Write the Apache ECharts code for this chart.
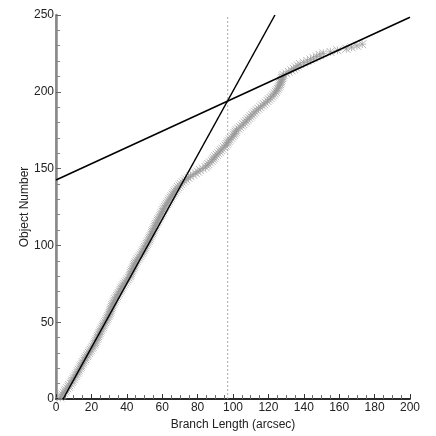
<!DOCTYPE html>
<html>
<head>
<meta charset="utf-8">
<script src="https://cdn.jsdelivr.net/npm/echarts@6/dist/echarts.min.js"></script>
<style>
  html, body { margin: 0; padding: 0; background: #fff; }
  #chart { width: 436px; height: 436px; }
</style>
</head>
<body>
<div id="chart"></div>
<script>
// branch length (arcsec) of each object, object number = index + 1
const branchLength = [
  2.4, 3.1, 3.6, 4.5, 5.2, 5.6, 6.4, 7.1, 7.5, 8.3,
  8.9, 9.2, 9.9, 10.3, 11.0, 11.4, 12.1, 12.4, 12.9, 13.5,
  14.0, 14.3, 14.9, 15.2, 15.9, 16.4, 16.8, 17.5, 17.9, 18.6,
  19.1, 19.6, 20.3, 20.7, 21.4, 21.8, 22.2, 22.6, 23.0, 23.5,
  23.8, 24.3, 24.6, 25.0, 25.5, 25.9, 26.4, 26.8, 27.2, 27.8,
  28.3, 28.7, 29.1, 29.6, 30.0, 30.3, 30.6, 30.9, 31.2, 31.6,
  31.9, 32.3, 32.7, 33.0, 33.5, 34.0, 34.5, 35.0, 35.4, 36.0,
  36.5, 36.9, 37.4, 37.9, 38.5, 39.1, 39.8, 40.4, 41.1, 41.7,
  42.0, 42.3, 42.7, 43.1, 43.5, 43.9, 44.2, 44.6, 45.0, 45.5,
  46.1, 46.8, 47.3, 47.9, 48.5, 49.0, 49.4, 49.9, 50.3, 50.8,
  51.3, 51.7, 52.2, 52.6, 53.0, 53.4, 53.9, 54.3, 54.6, 55.0,
  55.4, 55.8, 56.2, 56.6, 57.0, 57.5, 57.9, 58.4, 58.8, 59.3,
  59.7, 60.2, 60.6, 61.0, 61.5, 62.0, 62.6, 63.1, 63.7, 64.2,
  64.8, 65.3, 65.9, 66.4, 67.0, 67.6, 68.3, 69.0, 69.8, 70.5,
  71.5, 72.5, 73.5, 74.8, 76.0, 77.5, 79.0, 80.2, 81.4, 83.0,
  84.5, 85.3, 86.0, 87.0, 88.0, 88.7, 89.3, 90.0, 90.8, 91.7,
  92.5, 93.2, 94.0, 94.9, 95.8, 96.4, 97.0, 97.5, 98.2, 99.0,
  99.8, 100.5, 101.0, 101.5, 102.0, 103.0, 104.0, 105.0, 105.8, 106.7,
  107.5, 108.3, 109.2, 110.0, 110.8, 111.7, 112.5, 113.4, 114.4, 115.5,
  116.5, 117.5, 118.5, 119.5, 120.3, 121.2, 122.0, 122.8, 123.5, 124.2,
  124.7, 125.3, 125.8, 126.2, 126.6, 127.0, 127.2, 127.5, 127.8, 128.1,
  128.5, 130.0, 131.5, 133.0, 134.3, 135.5, 136.7, 137.9, 140.0, 142.0,
  143.8, 145.5, 147.3, 149.0, 151.0, 155.0, 159.0, 164.0, 167.0, 170.0,
  173.0
]

// fitted lines, end points [x, y]
const steepFit = [[4, 0], [123.7, 250]]
const shallowFit = [[0, 142.6], [200, 248.5]]
// break point
const breakX = 97

const points = branchLength.map((x, i) => [x, i + 1])

const myChart = echarts.init(document.getElementById('chart'))
const labelFont = { color: '#222', fontSize: 12, fontFamily: 'Liberation Sans, Arial, sans-serif' }

const option = {
  backgroundColor: '#fff',
  animation: false,
  grid: { left: 56, right: 26, top: 15, bottom: 37 },
  xAxis: [{
    type: 'value',
    min: 0,
    max: 200,
    interval: 20,
    name: 'Branch Length (arcsec)',
    nameLocation: 'middle',
    nameGap: 16,
    nameTextStyle: labelFont,
    axisLine: { lineStyle: { color: '#888', width: 1.5 } },
    axisTick: { inside: true, length: 5, lineStyle: { color: '#333' } },
    minorTick: { show: true, splitNumber: 4, length: 4, lineStyle: { color: '#666' } },
    axisLabel: Object.assign({ margin: 3 }, labelFont),
    splitLine: { show: false }
  }, {
    type: 'value',
    position: 'top',
    min: 0,
    max: 200,
    axisLine: { show: true, lineStyle: { color: '#000', width: 1.5 } },
    axisTick: { show: false },
    axisLabel: { show: false },
    splitLine: { show: false }
  }],
  yAxis: [{
    type: 'value',
    min: 0,
    max: 250,
    interval: 50,
    name: 'Object Number',
    nameLocation: 'middle',
    nameGap: 25,
    nameMoveOverlap: false,
    nameTextStyle: labelFont,
    axisLine: { show: true, lineStyle: { color: '#888', width: 1.5 } },
    axisTick: { inside: true, length: 5, lineStyle: { color: '#666' } },
    minorTick: { show: true, splitNumber: 5, length: 4, lineStyle: { color: '#888' } },
    axisLabel: Object.assign({ margin: 2 }, labelFont),
    splitLine: { show: false }
  }, {
    type: 'value',
    position: 'right',
    min: 0,
    max: 250,
    axisLine: { show: true, lineStyle: { color: '#888', width: 2.5 } },
    axisTick: { show: false },
    axisLabel: { show: false },
    splitLine: { show: false }
  }],
  series: [
    {
      type: 'scatter',
      data: points,
      symbol: 'path://M0,0L10,10M10,0L0,10M5,0L5,10M0,5L10,5',
      symbolSize: 8,
      itemStyle: { color: 'transparent', borderColor: '#999', borderWidth: 0.9 },
      z: 2
    },
    {
      type: 'line',
      data: [[breakX, 0], [breakX, 250]],
      symbol: 'none',
      lineStyle: { color: '#aaa', width: 1, type: [2, 2] },
      z: 1
    },
    {
      type: 'line',
      data: steepFit,
      symbol: 'none',
      lineStyle: { color: '#000', width: 1.5 },
      z: 3
    },
    {
      type: 'line',
      data: shallowFit,
      symbol: 'none',
      lineStyle: { color: '#000', width: 1.5 },
      z: 3
    }
  ]
}
myChart.setOption(option)
</script>
</body>
</html>
